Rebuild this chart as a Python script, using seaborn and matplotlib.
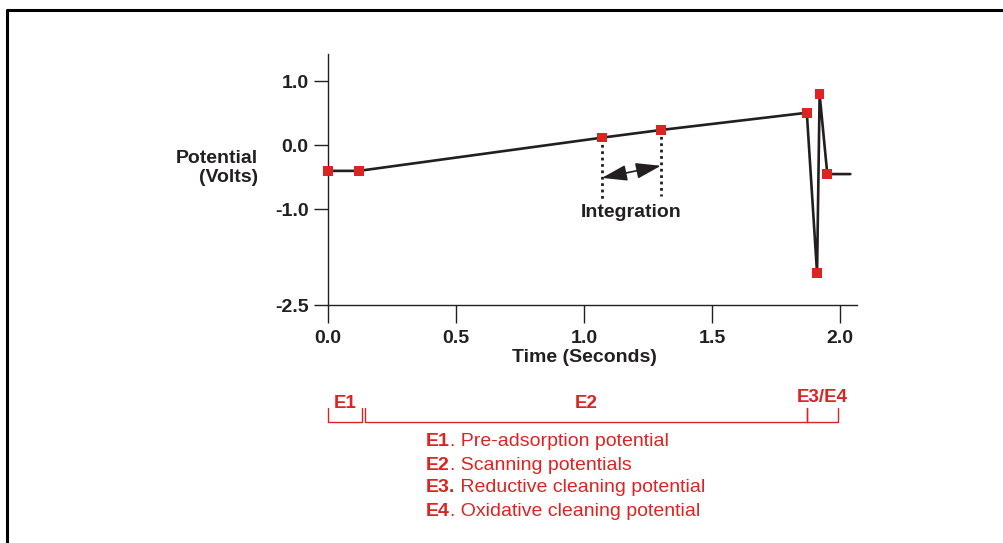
import matplotlib.pyplot as plt
import pandas as pd
import seaborn as sns
from matplotlib.lines import Line2D
from matplotlib.transforms import blended_transform_factory

# Waveform data (time in seconds, potential in volts)
time_s = [0.0, 0.12, 1.07, 1.30, 1.87, 1.91, 1.92, 1.95, 2.04]
potential_v = [-0.40, -0.40, 0.12, 0.24, 0.51, -2.00, 0.80, -0.45, -0.45]
n_marked = 8  # last point is the tail of the line, no marker

x_ticks = [0.0, 0.5, 1.0, 1.5, 2.0]
x_tick_labels = ['0.0', '0.5', '1.0', '1.5', '2.0']
y_ticks = [1.0, 0.0, -1.0, -2.5]
y_tick_labels = ['1.0', '0.0', '-1.0', '-2.5']

# Integration window
integ_x = [1.07, 1.30]
integ_y = [0.12, 0.24]
integ_bottom = [-0.85, -0.79]
arrow_y = [-0.51, -0.32]

# Phases under the time axis
phase_names = ['E1', 'E2', 'E3/E4']
phase_start = [0.0, 0.145, 1.87]
phase_end = [0.133, 1.87, 1.99]

legend_keys = ['E1', 'E2', 'E3.', 'E4']
legend_desc = ['. Pre-adsorption potential', '. Scanning potentials',
               ' Reductive cleaning potential', '. Oxidative cleaning potential']

DARK = '#231f20'
RED = '#dc2423'

sns.set_theme(style='ticks')
plt.rcParams['font.family'] = ['Liberation Sans', 'DejaVu Sans']
plt.rcParams['axes.unicode_minus'] = False

df = pd.DataFrame({'time': time_s, 'potential': potential_v})

fig = plt.figure(figsize=(10.04, 5.43), dpi=100)
ax = fig.add_axes([328 / 1004, 1 - 305 / 543, 529 / 1004, 251 / 543])

sns.lineplot(data=df, x='time', y='potential', ax=ax, color=DARK,
             linewidth=1.9, sort=False, estimator=None)
sns.scatterplot(data=df.iloc[:n_marked], x='time', y='potential', ax=ax,
                marker='s', s=48, color=RED, edgecolor='none', zorder=5)
for coll in ax.collections:
    coll.set_clip_on(False)

ax.set_xlim(0, 2.066)
ax.set_ylim(-2.5, 1.43)
ax.set_xticks(x_ticks, x_tick_labels)
ax.set_yticks(y_ticks, y_tick_labels)
for lab in ax.get_xticklabels() + ax.get_yticklabels():
    lab.set_fontweight('bold')
    lab.set_fontsize(14)
    lab.set_color(DARK)
ax.tick_params(axis='x', direction='out', length=13, width=1, pad=5, colors=DARK)
ax.tick_params(axis='y', direction='out', length=10, width=1, pad=4, colors=DARK)
sns.despine(ax=ax)
for side in ['left', 'bottom']:
    ax.spines[side].set_color(DARK)
    ax.spines[side].set_linewidth(1.0)

ax.set_xlabel('Time (Seconds)', fontsize=14, fontweight='bold', color=DARK)
ax.xaxis.label.set_va('center')
ax.xaxis.set_label_coords((584 - 328) / 529, (305 - 357) / 251)
ax.set_ylabel('Potential\n(Volts)', fontsize=14, fontweight='bold', color=DARK,
              rotation=0, ha='right', multialignment='right', linespacing=1.2)
ax.yaxis.label.set_va('center')
ax.yaxis.set_label_coords((258 - 328) / 529, (305 - 168) / 251)

# Integration window: dotted guides, double arrow, label
for x, top, bot in zip(integ_x, integ_y, integ_bottom):
    ax.plot([x, x], [top, bot], ls=(0, (1, 1.3)), color=DARK, lw=2, zorder=2)
ax.annotate('', xy=(integ_x[0], arrow_y[0]), xytext=(integ_x[1], arrow_y[1]),
            arrowprops=dict(arrowstyle='<|-|>,head_length=0.85,head_width=0.27',
                            mutation_scale=18, color=DARK, lw=1.2,
                            shrinkA=0, shrinkB=0))
ax.text(sum(integ_x) / 2, -1.05, 'Integration', ha='center', va='center',
        fontsize=14, fontweight='bold', color=DARK)

# Phase brackets below the axis
trans = blended_transform_factory(ax.transData, fig.transFigure)
y_bar = 1 - 421.5 / 543
y_tip = 1 - 408 / 543
for name, x0, x1 in zip(phase_names, phase_start, phase_end):
    ax.plot([x0, x0, x1, x1], [y_tip, y_bar, y_bar, y_tip], color=RED, lw=1.0,
            transform=trans, clip_on=False)
    y_lab = 1 - (397 if '/' in name else 403) / 543
    ax.text((x0 + x1) / 2, y_lab, name, transform=trans, ha='center',
            va='center', fontsize=13.5, fontweight='bold', color=RED)

# Legend text: bold key followed by regular description
for i, (key, desc) in enumerate(zip(legend_keys, legend_desc)):
    t = fig.text(426 / 1004, 1 - (442 + 23 * i) / 543, key, ha='left',
                 va='center', fontsize=14, fontweight='bold', color=RED)
    ax.annotate(desc, xy=(1, 0.5), xycoords=t, ha='left', va='center',
                fontsize=14, color=RED, annotation_clip=False)

# Frame lines along the top and left edges
fig.add_artist(Line2D([6.5 / 1004, 6.5 / 1004, 1.0], [0.0, 1 - 10 / 543, 1 - 10 / 543],
                      transform=fig.transFigure, color='black', lw=2.2))

fig.savefig('out.png', dpi=100)
